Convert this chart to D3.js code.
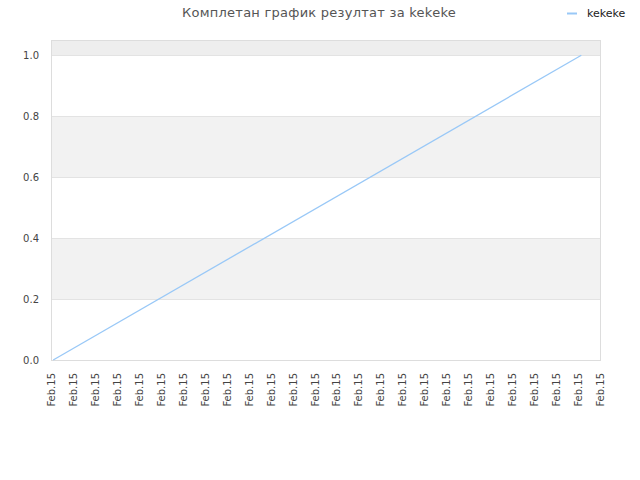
<!DOCTYPE html>
<html><head><meta charset="utf-8">
<script src="https://cdn.jsdelivr.net/npm/d3@7"></script>
<style>body{margin:0;background:#fff}svg{display:block}</style>
</head><body>
<script>
const title = "Комплетан график резултат за kekeke";
const seriesName = "kekeke";
const tickLabels = Array.from({length: 26}, () => "Feb.15");
const seriesX = [0.1, 24.15];
const seriesY = [0, 1];
const yTicks = [0, 0.2, 0.4, 0.6, 0.8, 1.0];
const bands = [[0.2, 0.4], [0.6, 0.8], [1.0, 1.05]];

const W = 640, H = 480;
const svg = d3.select("body").append("svg").attr("width", W).attr("height", H);
const x = d3.scaleLinear().domain([0, 25]).range([51, 600]);
const y = d3.scaleLinear().domain([0, 1.05]).range([360, 40]);

svg.selectAll("rect.band").data(bands).enter().append("rect")
  .attr("x", x(0)).attr("width", x(25) - x(0))
  .attr("y", d => y(d[1])).attr("height", d => y(d[0]) - y(d[1]))
  .attr("fill", d => d[1] > 1 ? "#eeeeee" : "#f2f2f2");

svg.selectAll("line.grid").data(yTicks).enter().append("line")
  .attr("x1", x(0)).attr("x2", x(25))
  .attr("y1", d => Math.round(y(d)) + 0.5).attr("y2", d => Math.round(y(d)) + 0.5)
  .attr("stroke", "#e3e3e3").attr("stroke-width", 1);

svg.append("rect").attr("x", x(0) + 0.5).attr("y", y(1.05) + 0.5)
  .attr("width", x(25) - x(0)).attr("height", y(0) - y(1.05))
  .attr("fill", "none").attr("stroke", "#dddddd");

const yAxis = d3.axisLeft(y).tickValues(yTicks).tickFormat(d3.format(".1f")).tickSize(0).tickPadding(12);
const gy = svg.append("g").attr("transform", `translate(${x(0)},0)`).call(yAxis);
gy.select(".domain").remove();
gy.selectAll("text").attr("fill", "#444").style("font-family", "DejaVu Sans").style("font-size", "10px");

const xAxis = d3.axisBottom(x).tickValues(d3.range(26)).tickFormat(i => tickLabels[i]).tickSize(0);
const gx = svg.append("g").attr("transform", `translate(0,${y(0)})`).call(xAxis);
gx.select(".domain").remove();
gx.selectAll("text").attr("fill", "#444").style("font-family", "DejaVu Sans").style("font-size", "10px")
  .attr("text-anchor", "end").attr("dy", "0.35em")
  .attr("transform", "translate(0,13) rotate(-90)").attr("x", 0).attr("y", 0);

const line = d3.line().x(d => x(d[0])).y(d => y(d[1]));
svg.append("path").datum(seriesX.map((v, i) => [v, seriesY[i]]))
  .attr("d", line).attr("fill", "none").attr("stroke", "#99c8f7").attr("stroke-width", 1.3);

svg.append("text").attr("x", 319).attr("y", 16.5).attr("text-anchor", "middle")
  .style("font-family", "DejaVu Sans").style("font-size", "13px").style("letter-spacing", "0.25px").attr("fill", "#555")
  .text(title);

svg.append("line").attr("x1", 567).attr("x2", 577).attr("y1", 13.5).attr("y2", 13.5)
  .attr("stroke", "#99c8f7").attr("stroke-width", 2);
svg.append("text").attr("x", 587).attr("y", 17)
  .style("font-family", "DejaVu Sans").style("font-size", "11px").attr("fill", "#222")
  .text(seriesName);
</script>
</body></html>
